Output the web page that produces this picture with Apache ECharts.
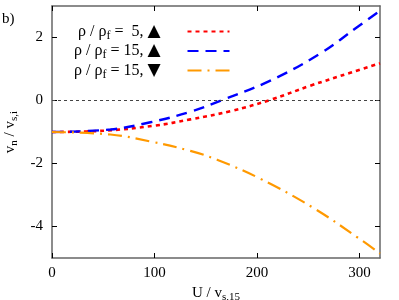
<!DOCTYPE html>
<html><head><meta charset="utf-8">
<script src="https://cdn.jsdelivr.net/npm/echarts@6/dist/echarts.min.js"></script>
<style>html,body{margin:0;padding:0;background:#fff}#c{width:399px;height:300px}</style>
</head><body><div id="c"></div>
<script>
// Data
const uRed    = [0, 50, 100, 135, 175, 213, 252, 291, 320];
const vRed    = [-1.0, -0.96, -0.80, -0.60, -0.33, 0.02, 0.47, 0.88, 1.18];
const uBlue   = [0, 57, 96, 135, 165, 213, 261, 300, 320];
const vBlue   = [-1.0, -0.92, -0.69, -0.36, 0.0, 0.63, 1.48, 2.38, 2.85];
const uOrange = [0, 57, 96, 135, 161, 203, 255, 300, 320];
const vOrange = [-1.0, -1.08, -1.30, -1.60, -1.88, -2.48, -3.41, -4.39, -4.86];
const xTicks = [0, 100, 200, 300];
const yTicks = [-4, -2, 0, 2];
const names = ['s5u', 's15u', 's15d'];
const legendTexts = {
  s5u:  '{t|ρ / ρ}{s|f}{t| =  5, }{tri|▲}{g|}',
  s15u: '{t|ρ / ρ}{s|f}{t| = 15, }{tri|▲}{g|}',
  s15d: '{t|ρ / ρ}{s|f}{t| = 15, }{tri|▼}{g|}'
};

const pair = (xs, ys) => xs.map((x, i) => [x, ys[i]]);
const FONT = 'Liberation Serif';
const axisCol = '#666';

const chart = echarts.init(document.getElementById('c'), null, {renderer: 'canvas'});
const baseX = {
  type: 'value', min: 0, max: 320,
  axisLine: {show: true, onZero: false, lineStyle: {color: axisCol, width: 1.5}},
  axisTick: {show: true, inside: true, length: 5, customValues: xTicks, lineStyle: {color: '#000', width: 1}},
  splitLine: {show: false}
};
const baseY = {
  type: 'value', min: -5, max: 3,
  axisLine: {show: true, onZero: false, lineStyle: {color: axisCol, width: 1.5}},
  axisTick: {show: true, inside: true, length: 5, customValues: yTicks, lineStyle: {color: '#000', width: 1}},
  splitLine: {show: false}
};
chart.setOption({
  animation: false,
  grid: {left: 52, right: 19, top: 6, bottom: 42, containLabel: false, outerBoundsMode: 'none'},
  xAxis: [
    Object.assign({}, baseX, {
      position: 'bottom',
      axisLabel: {customValues: xTicks, fontFamily: FONT, fontSize: 15, color: '#000', margin: 8},
      name: '{t|U / v}{s|s,15}', nameLocation: 'middle', nameGap: 24,
      nameTextStyle: {rich: {t: {fontFamily: FONT, fontSize: 15, color: '#000'}, s: {fontFamily: FONT, fontSize: 11, color: '#000', verticalAlign: 'bottom', padding: [8, 0, 0, 0]}}}
    }),
    Object.assign({}, baseX, {position: 'top', axisLabel: {show: false}})
  ],
  yAxis: [
    Object.assign({}, baseY, {
      position: 'left',
      axisLabel: {customValues: yTicks, fontFamily: FONT, fontSize: 15, color: '#000', margin: 9},
      name: '{t|v}{s|n}{t| / v}{s|s,i}', nameLocation: 'middle', nameGap: 28,
      nameTextStyle: {rich: {t: {fontFamily: FONT, fontSize: 15, color: '#000'}, s: {fontFamily: FONT, fontSize: 11, color: '#000', verticalAlign: 'bottom', padding: [8, 0, 0, 0]}}}
    }),
    Object.assign({}, baseY, {position: 'right', axisLabel: {show: false}})
  ],
  legend: {
    show: true, orient: 'vertical', left: 74, top: 23, align: 'right',
    itemWidth: 42, itemHeight: 12, itemGap: 1, padding: 0,
    data: names,
    itemStyle: {opacity: 0},
    formatter: n => legendTexts[n],
    textStyle: {rich: {
      t: {fontFamily: FONT, fontSize: 16, color: '#000'},
      s: {fontFamily: FONT, fontSize: 12, color: '#000', verticalAlign: 'bottom', padding: [8, 0, 0, 0]},
      tri: {fontFamily: 'DejaVu Sans', fontSize: 17, color: '#000'},
      g: {width: 22}
    }}
  },
  graphic: [{type: 'text', left: 2, top: 12, style: {text: 'b)', font: '15px "Liberation Serif"', fill: '#000'}}],
  series: [
    {name: 's5u', type: 'line', data: pair(uRed, vRed), smooth: 0.4, showSymbol: false, symbol: 'none',
     lineStyle: {color: '#ff0000', width: 2.6, type: [4, 4]}, itemStyle: {color: '#ff0000'},
     markLine: {silent: true, symbol: 'none', label: {show: false}, data: [{yAxis: 0}],
       lineStyle: {color: '#444', width: 1, type: [3, 3]}}},
    {name: 's15u', type: 'line', data: pair(uBlue, vBlue), smooth: 0.4, showSymbol: false, symbol: 'none',
     lineStyle: {color: '#0000ff', width: 2.4, type: [11, 7]}, itemStyle: {color: '#0000ff'}},
    {name: 's15d', type: 'line', data: pair(uOrange, vOrange), smooth: 0.4, showSymbol: false, symbol: 'none',
     lineStyle: {color: '#ff9900', width: 2.2, type: [14, 6, 2, 6]}, itemStyle: {color: '#ff9900'}}
  ]
});
</script></body></html>
